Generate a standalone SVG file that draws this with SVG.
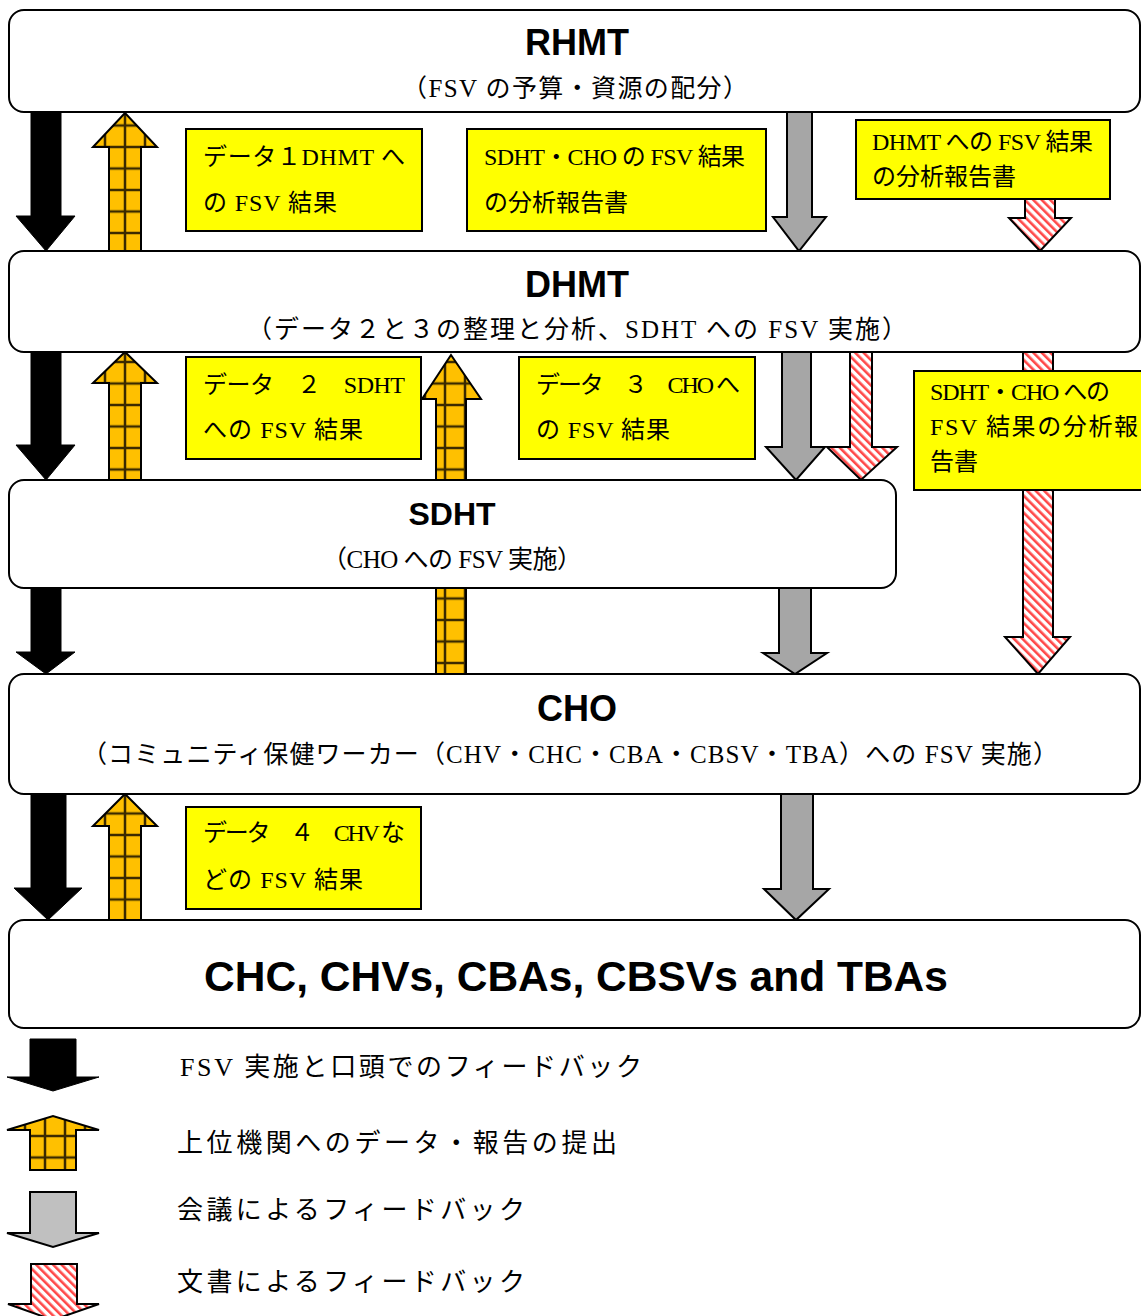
<svg xmlns="http://www.w3.org/2000/svg" width="1141" height="1316" viewBox="0 0 1141 1316">
<style>
.node{fill:#fff;stroke:#000;stroke-width:2}
.lbl{fill:#FFFF00;stroke:#000;stroke-width:2}
.blk{fill:#000;stroke:#000;stroke-width:1}
.org{fill:url(#grid);stroke:#000;stroke-width:2;stroke-linejoin:miter}
.gry{fill:#A6A6A6;stroke:#000;stroke-width:2}
.gry2{fill:#C0C0C0;stroke:#000;stroke-width:2}
.red{fill:url(#hatch);stroke:#000;stroke-width:2}
.ttl{font-family:'Liberation Sans',Arial,sans-serif;font-weight:bold;fill:#000;text-anchor:middle}
.jp{font-family:'Liberation Serif','Noto Sans CJK JP',serif;fill:#000}
</style>
<defs>
<pattern id="grid" patternUnits="userSpaceOnUse" x="15" y="7.25" width="20" height="21.5">
<rect width="20" height="21.5" fill="#FFC000"/>
<path d="M0 10.75H20M10 0V21.5" stroke="#3a2a00" stroke-width="2.5" fill="none"/>
</pattern>
<pattern id="hatch" patternUnits="userSpaceOnUse" width="6" height="6" patternTransform="rotate(-45)">
<rect width="6" height="6" fill="#fff"/>
<rect width="2.6" height="6" fill="#FF4848"/>
</pattern>
</defs>
<rect width="1141" height="1316" fill="#fff"/>

<g id="connectors">
<path class="blk" d="M31 112H61V216H75L46 251L16 216H31Z"/>
<path class="blk" d="M31 352H61V445H75L46 480L16 445H31Z"/>
<path class="blk" d="M31 588H61V652H75L46 674L16 652H31Z"/>
<path class="blk" d="M31 794H66V888H82L48 920L14 888H31Z"/>
<path class="org" d="M109 251H141V147H157L125 113L93 147H109Z"/>
<path class="org" d="M109 480H141V383H157L125 352L93 383H109Z"/>
<path class="org" d="M436 674H466V399H481L451 355L422 399H436Z"/>
<path class="org" d="M109 920H141V826H157L125 794L93 826H109Z"/>
<path class="gry" d="M787 112H812V217H826L799 251L773 217H787Z"/>
<path class="gry" d="M782 352H811V447H825L796 480L766 447H782Z"/>
<path class="gry" d="M779 588H811V653H827L795 674L763 653H779Z"/>
<path class="gry" d="M781 794H813V889H829L796 920L764 889H781Z"/>
<path class="red" d="M1025 199H1055V218H1071L1040 251L1009 218H1025Z"/>
<path class="red" d="M850 352H872V447H897L861 480L827 447H850Z"/>
<path class="red" d="M1023 352H1053V637H1070L1038 674L1005 637H1023Z"/>
</g>

<g id="node-rhmt">
<rect class="node" x="9" y="10" width="1131" height="102" rx="15"/>
<text class="ttl" x="577" y="55" font-size="36">RHMT</text>
<text class="jp" x="402" y="97" font-size="25" textLength="346" lengthAdjust="spacing">（FSV の予算・資源の配分）</text>
</g>
<g id="node-dhmt">
<rect class="node" x="9" y="251" width="1131" height="101" rx="15"/>
<text class="ttl" x="577" y="297" font-size="36">DHMT</text>
<text class="jp" x="247" y="338" font-size="25" textLength="660" lengthAdjust="spacing">（データ２と３の整理と分析、SDHT への FSV 実施）</text>
</g>
<g id="node-sdht">
<rect class="node" x="9" y="480" width="887" height="108" rx="15"/>
<text class="ttl" x="452" y="525" font-size="32">SDHT</text>
<text class="jp" x="322" y="568" font-size="25" textLength="260" lengthAdjust="spacing">（CHO への FSV 実施）</text>
</g>
<g id="node-cho">
<rect class="node" x="9" y="674" width="1131" height="120" rx="15"/>
<text class="ttl" x="577" y="721" font-size="36">CHO</text>
<text class="jp" x="82" y="763" font-size="25" textLength="976" lengthAdjust="spacing">（コミュニティ保健ワーカー（CHV・CHC・CBA・CBSV・TBA）への FSV 実施）</text>
</g>
<g id="node-chc">
<rect class="node" x="9" y="920" width="1131" height="108" rx="15"/>
<text class="ttl" x="576" y="991" font-size="42.5">CHC, CHVs, CBAs, CBSVs and TBAs</text>
</g>

<g id="label-data1">
<rect class="lbl" x="186" y="129" width="236" height="102"/>
<text class="jp" x="203" y="165" font-size="24" textLength="202" lengthAdjust="spacing">データ１DHMT へ</text>
<text class="jp" x="203" y="211" font-size="24" textLength="134" lengthAdjust="spacing">の FSV 結果</text>
</g>
<g id="label-sdht-cho-report">
<rect class="lbl" x="467" y="129" width="299" height="102"/>
<text class="jp" x="484" y="165" font-size="24" textLength="261" lengthAdjust="spacing">SDHT・CHO の FSV 結果</text>
<text class="jp" x="484" y="211" font-size="24">の分析報告書</text>
</g>
<g id="label-dhmt-report">
<rect class="lbl" x="856" y="120" width="254" height="79"/>
<text class="jp" x="872" y="150" font-size="24" textLength="221" lengthAdjust="spacing">DHMT への FSV 結果</text>
<text class="jp" x="872" y="185" font-size="24">の分析報告書</text>
</g>
<g id="label-data2">
<rect class="lbl" x="186" y="357" width="235" height="102"/>
<text class="jp" x="203" y="393" font-size="24" textLength="202" lengthAdjust="spacing">データ　２　SDHT</text>
<text class="jp" x="203" y="438" font-size="24" textLength="160" lengthAdjust="spacing">への FSV 結果</text>
</g>
<g id="label-data3">
<rect class="lbl" x="519" y="357" width="236" height="102"/>
<text class="jp" x="536" y="393" font-size="24" textLength="204" lengthAdjust="spacing">データ　３　CHO へ</text>
<text class="jp" x="536" y="438" font-size="24" textLength="134" lengthAdjust="spacing">の FSV 結果</text>
</g>
<g id="label-sdht-cho-doc">
<rect class="lbl" x="914" y="371" width="240" height="119"/>
<text class="jp" x="930" y="400" font-size="24" textLength="180" lengthAdjust="spacing">SDHT・CHO への</text>
<text class="jp" x="930" y="435" font-size="24" textLength="208" lengthAdjust="spacing">FSV 結果の分析報</text>
<text class="jp" x="930" y="470" font-size="24">告書</text>
</g>
<g id="label-data4">
<rect class="lbl" x="186" y="807" width="235" height="102"/>
<text class="jp" x="203" y="841" font-size="24" textLength="202" lengthAdjust="spacing">データ　４　CHV な</text>
<text class="jp" x="203" y="888" font-size="24" textLength="160" lengthAdjust="spacing">どの FSV 結果</text>
</g>

<g id="legend">
<path class="blk" d="M30 1039H76V1077H99L53 1091L7 1077H30Z"/>
<text class="jp" x="180" y="1076" font-size="26" textLength="462" lengthAdjust="spacing">FSV 実施と口頭でのフィードバック</text>
<path class="org" d="M30 1170H76V1130H99L53 1116L7 1130H30Z"/>
<text class="jp" x="177" y="1152" font-size="26" textLength="440" lengthAdjust="spacing">上位機関へのデータ・報告の提出</text>
<path class="gry2" d="M30 1192H76V1233H99L53 1247L7 1233H30Z"/>
<text class="jp" x="177" y="1219" font-size="26" textLength="348" lengthAdjust="spacing">会議によるフィードバック</text>
<path class="red" d="M31 1264H77V1304H99L53 1320L8 1304H31Z"/>
<text class="jp" x="177" y="1291" font-size="26" textLength="348" lengthAdjust="spacing">文書によるフィードバック</text>
</g>
</svg>
